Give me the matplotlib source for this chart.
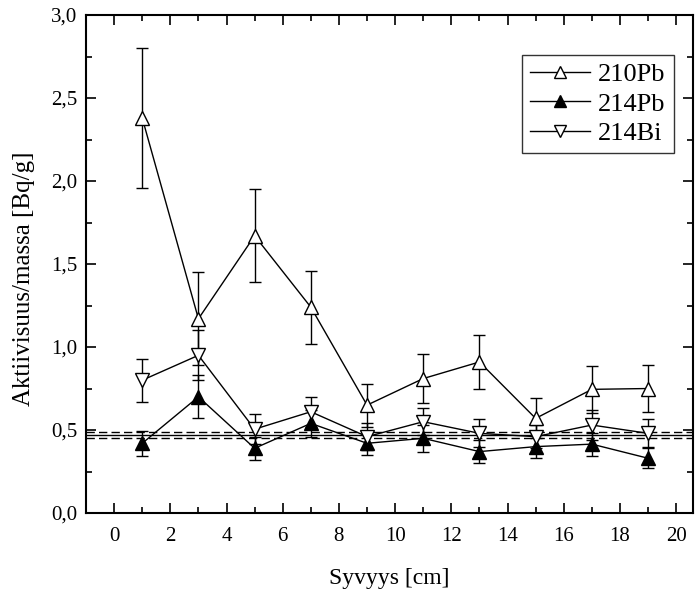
import numpy as np
import matplotlib.pyplot as plt
from matplotlib.ticker import FuncFormatter, MultipleLocator
from matplotlib.lines import Line2D

plt.rcParams['font.family'] = ['Liberation Serif', 'DejaVu Serif']

# Depth (cm) and activities (Bq/g)
depth = [1, 3, 5, 7, 9, 11, 13, 15, 17, 19]
pb210 = [2.38, 1.17, 1.67, 1.24, 0.65, 0.81, 0.91, 0.57, 0.745, 0.75]
pb210_err = [0.42, 0.28, 0.28, 0.22, 0.13, 0.15, 0.165, 0.12, 0.14, 0.14]
pb214 = [0.42, 0.70, 0.39, 0.54, 0.42, 0.45, 0.37, 0.40, 0.415, 0.33]
pb214_err = [0.075, 0.13, 0.07, 0.08, 0.07, 0.08, 0.07, 0.07, 0.07, 0.06]
bi214 = [0.80, 0.95, 0.505, 0.61, 0.46, 0.55, 0.48, 0.46, 0.53, 0.48]
bi214_err = [0.13, 0.15, 0.09, 0.09, 0.08, 0.08, 0.085, 0.07, 0.09, 0.085]

# mean level and its limits
mean_level = 0.470
mean_limits = [0.453, 0.487]

fig = plt.figure(figsize=(6.97, 5.89), dpi=100)
ax = fig.add_axes([0.1234, 0.129, 0.8709, 0.8455])

ax.axhline(mean_level, color='black', lw=1.0, zorder=1)
for lim in mean_limits:
    ax.axhline(lim, color='black', lw=1.0, ls=(0, (6, 3)), zorder=1)

common = dict(color='black', lw=1.0, capsize=4, elinewidth=1.0, capthick=1.0,
              markersize=10, markeredgewidth=1.0)
ax.errorbar(depth, pb210, yerr=pb210_err, marker='^', mfc='white', mec='black', **common)
ax.errorbar(depth, pb214, yerr=pb214_err, marker='^', mfc='black', mec='black', **common)
ax.errorbar(depth, bi214, yerr=bi214_err, marker='v', mfc='white', mec='black', **common)

ax.set_xlim(-1, 20.6)
ax.set_ylim(0, 3.0)
ax.xaxis.set_major_locator(MultipleLocator(2))
ax.xaxis.set_minor_locator(MultipleLocator(1))
ax.yaxis.set_major_locator(MultipleLocator(0.5))
ax.yaxis.set_minor_locator(MultipleLocator(0.25))
ax.yaxis.set_major_formatter(FuncFormatter(lambda v, p: f'{v:.1f}'.replace('.', ',')))
ax.tick_params(which='both', direction='in', top=True, right=True, labelsize=15, width=1.2)
ax.tick_params(which='major', length=7)
ax.tick_params(which='minor', length=4)
ax.tick_params(axis='x', pad=10)
ax.tick_params(axis='y', pad=6)
for s in ax.spines.values():
    s.set_linewidth(1.5)

ax.set_xlabel('Syvyys [cm]', fontsize=17, labelpad=16)
ax.set_ylabel('Aktiivisuus/massa [Bq/g]', fontsize=18)
ax.yaxis.set_label_coords(-0.084, 0.47)

handles = [
    Line2D([], [], color='black', lw=1.0, marker='^', mfc='white', mec='black', markersize=8),
    Line2D([], [], color='black', lw=1.0, marker='^', mfc='black', mec='black', markersize=8),
    Line2D([], [], color='black', lw=1.0, marker='v', mfc='white', mec='black', markersize=8),
]
labels = ['210Pb', '214Pb', '214Bi']
leg = ax.legend(handles, labels, loc='upper right', bbox_to_anchor=(0.968, 0.92), fontsize=19,
                frameon=True, fancybox=False, edgecolor='black', handlelength=2.3,
                borderpad=0.3, labelspacing=0.22, handletextpad=0.3, borderaxespad=0)
leg.get_frame().set_linewidth(1.0)

fig.savefig('out.png', dpi=100)
